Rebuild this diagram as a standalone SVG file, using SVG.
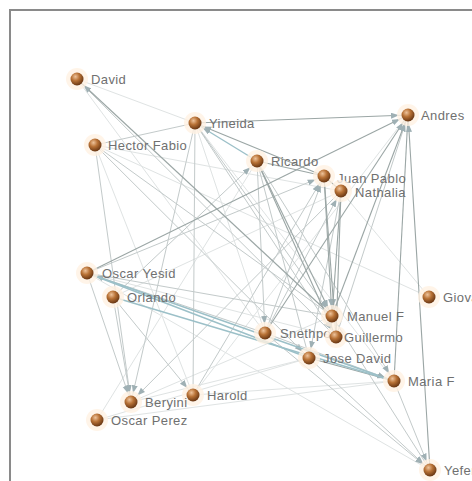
<svg xmlns="http://www.w3.org/2000/svg" width="472" height="481" viewBox="0 0 472 481">
  <style>
    .e1 { stroke: #dfe3e3; stroke-width: 1; fill: none; }
    .e2 { stroke: #c3caca; stroke-width: 1; fill: none; }
    .e3 { stroke: #9ba6a5; stroke-width: 1.1; fill: none; }
    .e4 { stroke: #9cc0c8; stroke-width: 1.4; fill: none; }
    .arr { marker-end: url(#tip); }
    .halo { fill: #fff1e2; opacity: 0.8; }
    .ball { fill: url(#sphere); }
    .lbl { font-family: "Liberation Sans", Arial, sans-serif; font-size: 13px; letter-spacing: 0.4px; fill: #707070; }
  </style>
  <defs>
    <radialGradient id="sphere" cx="0.38" cy="0.32" r="0.7">
      <stop offset="0" stop-color="#eec39b"/>
      <stop offset="0.45" stop-color="#b87236"/>
      <stop offset="1" stop-color="#653412"/>
    </radialGradient>
    <marker id="tip" markerUnits="userSpaceOnUse" markerWidth="9" markerHeight="7" refX="17" refY="3" orient="auto">
      <path d="M0,0 L8,3 L0,6 z" fill="#9fb0b4"/>
    </marker>
  </defs>

  <rect width="472" height="481" fill="#ffffff"/>
  <path d="M10,481 V10 H472" stroke="#8a8a8a" stroke-width="2" fill="none"/>

  <g id="connectors">
    <!-- faint background links -->
    <line class="e1" x1="77" y1="79" x2="195" y2="123"/>
    <line class="e1" x1="95" y1="145" x2="341" y2="191"/>
    <line class="e1" x1="95" y1="145" x2="429" y2="297"/>
    <line class="e1" x1="195" y1="123" x2="394" y2="381"/>
    <line class="e1" x1="97" y1="420" x2="257" y2="161"/>
    <line class="e1" x1="97" y1="420" x2="309" y2="358"/>
    <line class="e1" x1="97" y1="420" x2="394" y2="381"/>
    <line class="e1" x1="193" y1="395" x2="394" y2="381"/>
    <line class="e1" x1="131" y1="402" x2="309" y2="358"/>
    <line class="e1" x1="341" y1="191" x2="429" y2="297"/>
    <line class="e1" x1="87" y1="273" x2="336" y2="337"/>
    <line class="e1" x1="113" y1="297" x2="341" y2="191"/>
    <line class="e1" x1="193" y1="395" x2="408" y2="115"/>
    <line class="e1" x1="131" y1="402" x2="332" y2="316"/>
    <line class="e1" x1="87" y1="273" x2="430" y2="470"/>
    <line class="e1" x1="95" y1="145" x2="193" y2="395"/>
    <line class="e1" x1="77" y1="79" x2="265" y2="333"/>
    <line class="e1" x1="265" y1="333" x2="195" y2="123"/>

    <!-- medium links -->
    <line class="e2" x1="95" y1="145" x2="195" y2="123"/>
    <line class="e2 arr" x1="257" y1="161" x2="265" y2="333"/>
    <line class="e2" x1="257" y1="161" x2="309" y2="358"/>
    <line class="e2 arr" x1="257" y1="161" x2="394" y2="381"/>
    <line class="e2" x1="95" y1="145" x2="332" y2="316"/>
    <line class="e2 arr" x1="95" y1="145" x2="309" y2="358"/>
    <line class="e2 arr" x1="95" y1="145" x2="131" y2="402"/>
    <line class="e2 arr" x1="195" y1="123" x2="131" y2="402"/>
    <line class="e2" x1="195" y1="123" x2="193" y2="395"/>
    <line class="e2 arr" x1="87" y1="273" x2="131" y2="402"/>
    <line class="e2 arr" x1="113" y1="297" x2="131" y2="402"/>
    <line class="e2 arr" x1="113" y1="297" x2="193" y2="395"/>
    <line class="e2 arr" x1="87" y1="273" x2="324" y2="176"/>
    <line class="e2 arr" x1="113" y1="297" x2="257" y2="161"/>
    <line class="e2 arr" x1="265" y1="333" x2="324" y2="176"/>
    <line class="e2 arr" x1="265" y1="333" x2="341" y2="191"/>
    <line class="e2 arr" x1="336" y1="337" x2="408" y2="115"/>
    <line class="e2 arr" x1="341" y1="191" x2="131" y2="402"/>
    <line class="e2 arr" x1="309" y1="358" x2="430" y2="470"/>
    <line class="e2 arr" x1="265" y1="333" x2="430" y2="470"/>
    <line class="e2 arr" x1="394" y1="381" x2="430" y2="470"/>
    <line class="e2" x1="332" y1="316" x2="430" y2="470"/>
    <line class="e2 arr" x1="265" y1="333" x2="87" y2="273"/>
    <line class="e2 arr" x1="193" y1="395" x2="324" y2="176"/>
    <line class="e2" x1="77" y1="79" x2="336" y2="337"/>
    <line class="e2 arr" x1="195" y1="123" x2="336" y2="337"/>
    <line class="e2 arr" x1="195" y1="123" x2="332" y2="316"/>
    <line class="e2" x1="87" y1="273" x2="332" y2="316"/>
    <line class="e2 arr" x1="341" y1="191" x2="309" y2="358"/>
    <line class="e2 arr" x1="265" y1="333" x2="394" y2="381"/>

    <!-- stronger links -->
    <line class="e3 arr" x1="332" y1="316" x2="77" y2="79"/>
    <line class="e3 arr" x1="195" y1="123" x2="408" y2="115"/>
    <line class="e4 arr" x1="257" y1="161" x2="195" y2="123"/>
    <line class="e3 arr" x1="324" y1="176" x2="195" y2="123"/>
    <line class="e3" x1="257" y1="161" x2="324" y2="176"/>
    <line class="e3" x1="324" y1="176" x2="341" y2="191"/>
    <line class="e3 arr" x1="257" y1="161" x2="332" y2="316"/>
    <line class="e3 arr" x1="257" y1="161" x2="336" y2="337"/>
    <line class="e3 arr" x1="87" y1="273" x2="408" y2="115"/>
    <line class="e3 arr" x1="265" y1="333" x2="408" y2="115"/>
    <line class="e3 arr" x1="332" y1="316" x2="408" y2="115"/>
    <line class="e3" x1="394" y1="381" x2="408" y2="115"/>
    <line class="e3 arr" x1="430" y1="470" x2="408" y2="115"/>
    <line class="e3 arr" x1="341" y1="191" x2="332" y2="316"/>
    <line class="e3" x1="341" y1="191" x2="336" y2="337"/>
    <line class="e3 arr" x1="324" y1="176" x2="332" y2="316"/>
    <line class="e3" x1="324" y1="176" x2="336" y2="337"/>
    <line class="e3" x1="309" y1="358" x2="394" y2="381"/>
    <line class="e4 arr" x1="87" y1="273" x2="394" y2="381"/>
    <line class="e4" x1="87" y1="273" x2="309" y2="358"/>
    <line class="e4" x1="113" y1="297" x2="394" y2="381"/>
  </g>

  <g id="david"><circle class="halo" cx="77" cy="79" r="11"/><circle class="ball" cx="77" cy="79" r="6.5"/><text class="lbl" x="91" y="84">David</text></g>
  <g id="yineida"><circle class="halo" cx="195" cy="123" r="11"/><circle class="ball" cx="195" cy="123" r="6.5"/><text class="lbl" x="209" y="128">Yineida</text></g>
  <g id="hector-fabio"><circle class="halo" cx="95" cy="145" r="11"/><circle class="ball" cx="95" cy="145" r="6.5"/><text class="lbl" x="108" y="150">Hector Fabio</text></g>
  <g id="ricardo"><circle class="halo" cx="257" cy="161" r="11"/><circle class="ball" cx="257" cy="161" r="6.5"/><text class="lbl" x="271" y="166">Ricardo</text></g>
  <g id="andres"><circle class="halo" cx="408" cy="115" r="11"/><circle class="ball" cx="408" cy="115" r="6.5"/><text class="lbl" x="421" y="120">Andres</text></g>
  <g id="juan-pablo"><circle class="halo" cx="324" cy="176" r="11"/><circle class="ball" cx="324" cy="176" r="6.5"/><text class="lbl" x="337" y="183">Juan Pablo</text></g>
  <g id="nathalia"><circle class="halo" cx="341" cy="191" r="11"/><circle class="ball" cx="341" cy="191" r="6.5"/><text class="lbl" x="355" y="197">Nathalia</text></g>
  <g id="oscar-yesid"><circle class="halo" cx="87" cy="273" r="11"/><circle class="ball" cx="87" cy="273" r="6.5"/><text class="lbl" x="102" y="278">Oscar Yesid</text></g>
  <g id="orlando"><circle class="halo" cx="113" cy="297" r="11"/><circle class="ball" cx="113" cy="297" r="6.5"/><text class="lbl" x="127" y="302">Orlando</text></g>
  <g id="giovanni"><circle class="halo" cx="429" cy="297" r="11"/><circle class="ball" cx="429" cy="297" r="6.5"/><text class="lbl" x="443" y="302">Giovanni</text></g>
  <g id="manuel-f"><circle class="halo" cx="332" cy="316" r="11"/><circle class="ball" cx="332" cy="316" r="6.5"/><text class="lbl" x="347" y="321">Manuel F</text></g>
  <g id="snethpo"><circle class="halo" cx="265" cy="333" r="11"/><circle class="ball" cx="265" cy="333" r="6.5"/><text class="lbl" x="280" y="338">Snethpo</text></g>
  <g id="guillermo"><circle class="halo" cx="336" cy="337" r="11"/><circle class="ball" cx="336" cy="337" r="6.5"/><text class="lbl" x="344" y="342">Guillermo</text></g>
  <g id="jose-david"><circle class="halo" cx="309" cy="358" r="11"/><circle class="ball" cx="309" cy="358" r="6.5"/><text class="lbl" x="323" y="363">Jose David</text></g>
  <g id="maria-f"><circle class="halo" cx="394" cy="381" r="11"/><circle class="ball" cx="394" cy="381" r="6.5"/><text class="lbl" x="408" y="386">Maria F</text></g>
  <g id="harold"><circle class="halo" cx="193" cy="395" r="11"/><circle class="ball" cx="193" cy="395" r="6.5"/><text class="lbl" x="207" y="400">Harold</text></g>
  <g id="beryini"><circle class="halo" cx="131" cy="402" r="11"/><circle class="ball" cx="131" cy="402" r="6.5"/><text class="lbl" x="145" y="407">Beryini</text></g>
  <g id="oscar-perez"><circle class="halo" cx="97" cy="420" r="11"/><circle class="ball" cx="97" cy="420" r="6.5"/><text class="lbl" x="111" y="425">Oscar Perez</text></g>
  <g id="yeferson"><circle class="halo" cx="430" cy="470" r="11"/><circle class="ball" cx="430" cy="470" r="6.5"/><text class="lbl" x="444" y="475">Yeferson</text></g>
</svg>
